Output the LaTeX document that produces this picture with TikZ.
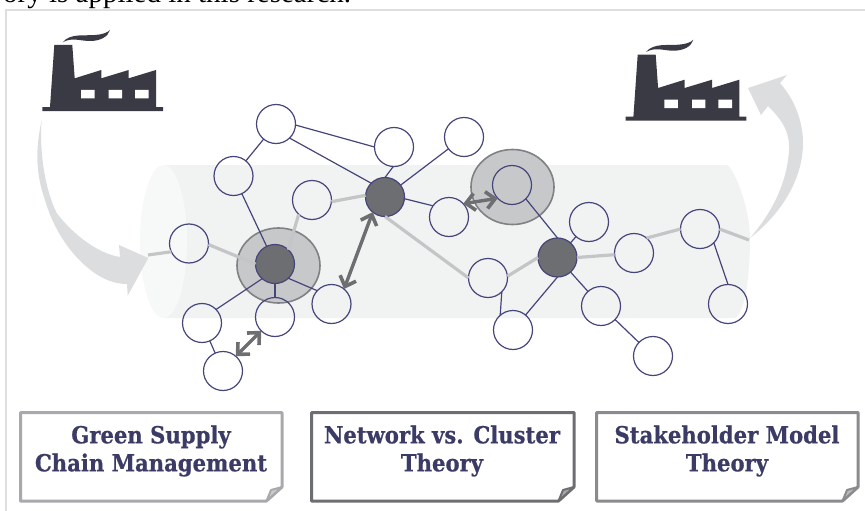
\documentclass[tikz,border=0pt]{standalone}
\usepackage{fontspec}
\setmainfont{Liberation Serif}
\newfontfamily\labelfont[FakeStretch=0.9,FakeBold=0.6,BoldFont={DejaVu Serif Bold}]{DejaVu Serif}
\usetikzlibrary{arrows.meta,shapes.geometric,calc}
\definecolor{ink}{HTML}{3A3A45}
\definecolor{navy}{HTML}{45457A}
\definecolor{labelink}{HTML}{3B3B66}
\definecolor{hubgray}{HTML}{6D6E71}
\definecolor{halofill}{HTML}{C7C8CA}
\definecolor{haloedge}{HTML}{808184}
\definecolor{backbone}{HTML}{C4C5C7}
\definecolor{swoosh}{HTML}{DCDDDF}
\definecolor{tube}{HTML}{F1F2F2}
\definecolor{tubeend}{HTML}{F7F8F8}
\definecolor{framegray}{HTML}{DEDEDE}
\definecolor{boxa}{HTML}{A8A9AD}
\definecolor{boxc}{HTML}{8A8B8E}
\tikzset{
  x=1pt,y=-1pt,
  vertex/.style={circle,draw=navy,line width=1.2pt,minimum size=39pt,inner sep=0pt,outer sep=0pt},
  hub/.style={vertex,fill=hubgray},
  halo/.style={ellipse,draw=haloedge,fill=halofill,line width=1.6pt,minimum width=83pt,minimum height=75pt,inner sep=0pt},
  thinedge/.style={draw=navy,line width=1.2pt},
  spine/.style={draw=backbone,line width=3.2pt},
  relation/.style={draw=hubgray,line width=3.4pt,{Straight Barb[length=9pt,width=17pt,line width=3.6pt]}-{Straight Barb[length=9pt,width=17pt,line width=3.6pt]}},
  notebox/.style={line width=3pt,fill=white,line join=round},
  foldmark/.style={line width=2pt,line join=round},
  notelabel/.style={font=\labelfont\bfseries\fontsize{23.5}{28}\selectfont,text=labelink,align=center,inner sep=0pt},
  factory/.pic={
    \fill[ink] (42.3,107) -- (50,107) -- (54.3,45) -- (72.3,45) -- (74.7,78.3) -- (101.3,70) -- (101.3,78.3) -- (128.7,70) -- (128.7,78.3) -- (156,70) -- (156,107) -- (163,107) -- (163,111) -- (42.3,111) -- cycle;
    \fill[white] (81,90) rectangle (94.5,98.3) (108.7,90) rectangle (122,98.3) (135,90) rectangle (148.7,98.3);
    \fill[ink] (62.7,42.3) .. controls (70,33) and (85,36) .. (95,35) .. controls (102,34.5) and (107,33) .. (110,30) .. controls (108,37) and (100,41) .. (90,41) .. controls (80,41) and (72,37) .. (62.7,42.3) -- cycle;
  }
}
\begin{document}
\begin{tikzpicture}
\useasboundingbox (0,0) rectangle (865,511);
\begin{scope}
\clip (0,0) rectangle (865,511);
\node[anchor=base west,inner sep=0pt,font=\fontsize{29}{32}\selectfont,text=black] (caption) at (3,3) {ory is applied in this research.};
\end{scope}
% frame
\draw[framegray,line width=1.6pt] (6,511) -- (6,10) -- (865,10);
% tube
\fill[tube] (163,165) -- (727,165) .. controls (733,167) and (750,205) .. (750,240) .. controls (750,270) and (746,312) .. (735,318) -- (163,318) -- cycle;
\fill[tubeend] (163.5,241.5) ellipse [x radius=23.5,y radius=76.5];
% sweeping arrows
\fill[swoosh] (41.7,120) .. controls (35,150) and (36,175) .. (45,200) .. controls (55,235) and (78,265) .. (103,278) .. controls (111,282) and (119,284) .. (127,284) -- (127.7,295.7) -- (148.3,258) -- (119,245) -- (120,257) .. controls (100,254) and (75,237) .. (56.7,213) .. controls (45,190) and (39,150) .. (41.7,120) -- cycle;
\fill[swoosh] (750,238) .. controls (780,215) and (803,180) .. (803,143) .. controls (803,122) and (795,100) .. (780,83) -- (787,75) -- (748,88) -- (761,115) -- (768,106) .. controls (780,118) and (790,130) .. (789,150) .. controls (787,185) and (770,215) .. (750,238) -- cycle;
% factories
\pic at (0,0) {factory};
\pic at (583.4,9.7) {factory};
% halos
\node[halo] (halo1) at (278.5,265.5) {};
\node[halo] (halo2) at (512.5,187) {};
% vertices
\node[vertex] (n1) at (276,124) {};
\node[vertex] (n2) at (233.5,176) {};
\node[vertex] (n3) at (394,147) {};
\node[vertex] (n4) at (464,137) {};
\node[vertex] (n5) at (312,200) {};
\node[vertex] (n6) at (189,243.5) {};
\node[vertex] (n7) at (331.5,304) {};
\node[vertex] (n8) at (202,323) {};
\node[vertex] (n9) at (275,317) {};
\node[vertex] (n10) at (223,371) {};
\node[vertex] (n11) at (512,185) {};
\node[vertex] (n12) at (449,217) {};
\node[vertex] (n13) at (589,222) {};
\node[vertex] (n14) at (634,253) {};
\node[vertex] (n15) at (700,229) {};
\node[vertex] (n16) at (488,278) {};
\node[vertex] (n17) at (513,330) {};
\node[vertex] (n18) at (601,306) {};
\node[vertex] (n19) at (653,356) {};
\node[vertex] (n20) at (728,304) {};
\node[hub] (hub1) at (385,197) {};
\node[hub] (hub2) at (275,264) {};
\node[hub] (hub3) at (557.5,257.5) {};
\coordinate (spinestart) at (148,255);
\coordinate (spineend) at (749,240);
% backbone
\draw[spine] (spinestart) -- (n6.205);
\draw[spine] (n6.-3) -- (hub2.180);
\draw[spine] (hub2.47) -- (n5.227);
\draw[spine] (n5.-5) -- (hub1.175);
\draw[spine] (hub1.-90) -- (n16.180);
\draw[spine] (n16.5) -- (hub3.180);
\draw[spine] (hub3.0) -- (n14.185);
\draw[spine] (n14.50) -- (n15.180);
\draw[spine] (n15.0) -- (spineend);
% thin edges
\foreach \a/\b in {n1/n2,hub1/n4,n2/hub2,hub2/n9,n8/n10,n13/hub3,hub3/n18,n18/n19}
  \draw[thinedge] (\a) -- (\b);
\draw[thinedge] (n1.-3) -- (n3.180);
\draw[thinedge] (n1.-46) -- (hub1.135);
\draw[thinedge] (n3.-92) -- (hub1.90);
\draw[thinedge] (hub1.-5) -- (n12.145);
\draw[thinedge] (hub2.229) -- (n8.44);
\draw[thinedge] (hub2.-47) -- (n7.137);
\draw[thinedge] (n11.-45) -- (hub3.90);
\draw[thinedge] (hub3.-90) -- (n17.50);
\draw[thinedge] (n16.-45) -- (n17.131);
\draw[thinedge] (n15.-45) -- (n20.90);
% relations
\draw[relation] (hub1.231) -- (n7.50);
\draw[relation] (n12.43) -- (n11.223);
\draw[relation] (n9.225) -- (n10.49);
% note boxes
\draw[notebox,draw=boxa] (20.5,412.5) -- (282,412.5) -- (282,487) -- (266.5,501) -- (20.5,501) -- cycle;
\draw[foldmark,draw=boxa,fill=boxa!60!white] (282,487) -- (271,490) -- (266.5,501) -- cycle;
\draw[notebox,draw=hubgray] (311.5,412.5) -- (574,412.5) -- (574,487) -- (558.5,501) -- (311.5,501) -- cycle;
\draw[foldmark,draw=hubgray,fill=hubgray!60!white] (574,487) -- (563,490) -- (558.5,501) -- cycle;
\draw[notebox,draw=boxc] (596.5,412.5) -- (858,412.5) -- (858,487) -- (842.5,501) -- (596.5,501) -- cycle;
\draw[foldmark,draw=boxc,fill=boxc!60!white] (858,487) -- (847,490) -- (842.5,501) -- cycle;
\node[notelabel] (label1) at (151,451) {Green Supply\\Chain Management};
\node[notelabel] (label2) at (442,451) {Network vs. Cluster\\Theory};
\node[notelabel] (label3) at (727,451) {Stakeholder Model\\Theory};
\end{tikzpicture}
\end{document}
